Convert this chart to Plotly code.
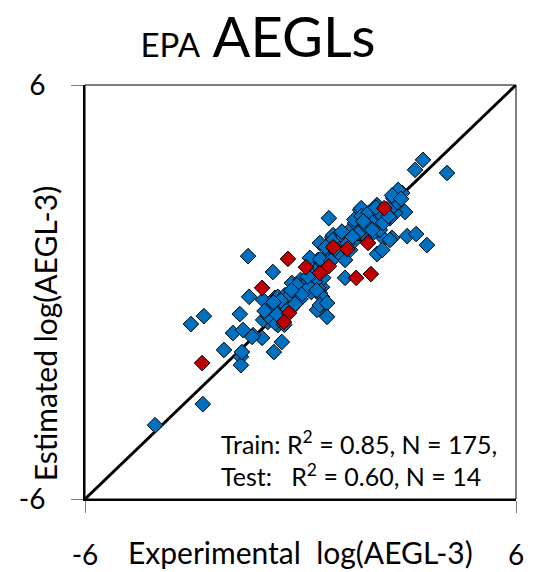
import plotly.graph_objects as go

# Training set (blue): experimental vs estimated log(AEGL-3)
train_exp = [
    -4.05, -2.72, -3.05, -2.69, -1.69, -1.88, -2.13, -1.66, -1.66, -1.43,
    -1.04, -0.71, -0.91, -1.07, -0.52, -0.74, -1.32, -1.60, -1.46, -0.77,
    3.41, 3.19, 4.08, 2.83, 2.58, 2.91, 2.63, 2.13, 1.66, 1.94,
    1.85, 2.21, 2.35, 0.79, 1.60, 1.38, 0.88, 1.57, 1.74, 2.02,
    1.35, 1.16, 2.33, 2.55, 2.97, 3.22, 3.52, 0.54, 0.96, 1.38,
    2.13, -0.24, 0.32, 0.60, 1.24, 0.54, -0.63, 0.07, 2.72, 1.69,
    1.52, 2.13, 2.49, 2.21, 1.71, 0.91, 1.10, 1.46, 2.49, 1.24,
    0.49, 0.26, 0.00, 0.18, 0.35, 0.63, 0.13, 0.13, 0.49, -0.43,
    -0.10, -0.24, -0.65, -0.91, -1.04, -0.79, -0.63, -1.35, -1.63, 0.49,
    0.60, 0.46, 0.54, 0.74, 0.74, 2.28,
    -0.80, -0.60, -0.50, -0.30, -0.20, 0.00, 0.10, -0.40, -0.70, -0.90,
    0.20, 0.30, -0.10, 0.40, -0.55, -0.35, -0.15, 0.05, -0.75, -0.45,
    0.25, -0.65, 0.45, -0.25, -1.00,
    1.50, 1.70, 1.90, 2.00, 2.20, 2.40, 2.30, 1.80, 2.60, 2.70,
    1.60, 2.00, 2.45, 2.10, 1.75, 2.55, 2.80,
    0.70, 0.80, 1.00, 1.10, 0.90, 1.20, 0.60, 0.70, 1.30, 1.00,
    0.40, 0.55, 0.85, 1.15, 1.45, 0.30, 0.20, 0.95,
]
train_est = [
    -3.86, -3.25, -0.93, -0.70, -0.64, -1.19, -1.68, -1.88, -2.12, -0.14,
    -0.23, -0.17, -0.87, -1.33, -1.45, -1.74, -1.25, -1.10, 1.04, 0.58,
    3.83, 3.54, 3.45, 2.87, 2.72, 2.32, 2.29, 2.52, 2.38, 2.17,
    2.03, 2.09, 2.17, 2.14, 1.88, 1.80, 1.59, 1.59, 1.65, 1.71,
    1.51, 1.65, 1.54, 1.57, 1.62, 1.68, 1.36, 1.42, 1.22, 1.22,
    1.10, 0.26, 0.20, 0.14, 0.41, -0.03, -0.14, 0.06, 2.96, 2.43,
    2.00, 2.29, 2.14, 1.80, 1.71, 1.65, 1.51, 1.45, 1.51, 0.93,
    0.93, 0.99, 0.35, 0.35, 0.26, 0.41, 0.12, 0.20, 0.72, -0.09,
    -0.23, -0.46, -0.58, -0.52, -0.81, -0.75, -0.96, -1.30, -1.74, 0.12,
    -0.14, -0.52, -0.38, -0.32, -0.72, 1.22,
    -0.60, -0.40, -0.70, -0.30, -0.10, -0.20, 0.10, -0.20, -0.90, -0.70,
    0.30, 0.00, 0.20, 0.30, -0.25, -0.50, -0.35, -0.05, -0.30, -0.95,
    0.15, -0.65, 0.05, 0.05, -0.55,
    2.10, 2.20, 2.30, 2.00, 2.30, 2.40, 2.00, 1.90, 2.50, 2.60,
    1.70, 1.80, 2.20, 2.45, 2.05, 2.80, 2.70,
    1.00, 1.20, 1.40, 1.30, 1.50, 1.60, 0.80, 1.30, 1.40, 1.10,
    0.60, 0.95, 0.90, 1.75, 1.60, 0.50, 0.45, 1.25,
]

# Test set (red)
test_exp = [-2.74, -1.07, -0.35, 0.15, 0.91, 1.30, 0.79, 0.54, 1.88, 1.55, 1.96, 2.33, -0.32, -0.46]
test_est = [-2.06, 0.12, 0.96, 0.72, 1.30, 1.25, 0.75, 0.55, 1.42, 0.41, 0.52, 2.43, -0.61, -0.87]

axis_range = [-6, 6]
tick_vals = [-6, 6]
tick_text = ["-6", "6"]

FONT = "Lato, Calibri, Carlito, sans-serif"

fig = go.Figure()

# identity line
fig.add_trace(go.Scatter(
    x=axis_range, y=axis_range, mode="lines",
    line=dict(color="black", width=3), hoverinfo="skip", showlegend=False,
))

fig.add_trace(go.Scatter(
    x=train_exp, y=train_est, mode="markers", name="Train",
    marker=dict(symbol="diamond", size=12, color="#0070C0",
                line=dict(color="black", width=1)),
    showlegend=False,
))
fig.add_trace(go.Scatter(
    x=test_exp, y=test_est, mode="markers", name="Test",
    marker=dict(symbol="diamond", size=12, color="#C00000",
                line=dict(color="black", width=1)),
    showlegend=False,
))

axis_common = dict(
    range=axis_range, tickvals=tick_vals, ticktext=tick_text,
    ticks="outside", ticklen=12, tickwidth=1, tickcolor="#7f7f7f",
    showline=True, linecolor="black", linewidth=2,
    showgrid=False, zeroline=False, automargin=False,
    tickfont=dict(family=FONT, size=28, color="black"),
)

fig.update_layout(
    width=541, height=572,
    margin=dict(l=85, r=25, t=85, b=73, autoexpand=False),
    paper_bgcolor="white", plot_bgcolor="white",
    xaxis=dict(**axis_common, ticklabelstandoff=18),
    yaxis=dict(**axis_common, ticklabelstandoff=20),
    title=dict(
        text="<span style='font-size:33px'>EPA</span> AEGLs",
        font=dict(family=FONT, size=56, color="black"),
        x=0.477, xanchor="center", xref="container",
        y=0.934, yanchor="middle", yref="container",
    ),
    shapes=[dict(type="rect", xref="paper", yref="paper", x0=0, y0=0, x1=1, y1=1,
                 line=dict(color="black", width=1), layer="above")],
    annotations=[
        dict(text="Experimental\u00a0 log(AEGL-3)", xref="paper", yref="paper",
             x=0.5, y=-0.128, xanchor="center", yanchor="middle", showarrow=False,
             font=dict(family=FONT, size=30, color="black")),
        dict(text="Estimated log(AEGL-3)", xref="paper", yref="paper",
             x=-0.093, y=0.40, xanchor="center", yanchor="middle", textangle=-90,
             showarrow=False, font=dict(family=FONT, size=30, color="black")),
        dict(text="Train: R<sup>2</sup> = 0.85, N = 175,<br>Test:\u00a0\u00a0 R<sup>2</sup> = 0.60, N = 14",
             xref="paper", yref="paper", x=0.31, y=0.098, xanchor="left", yanchor="middle",
             align="left", showarrow=False,
             font=dict(family=FONT, size=25, color="black")),
    ],
)

fig.write_html("out.html")
